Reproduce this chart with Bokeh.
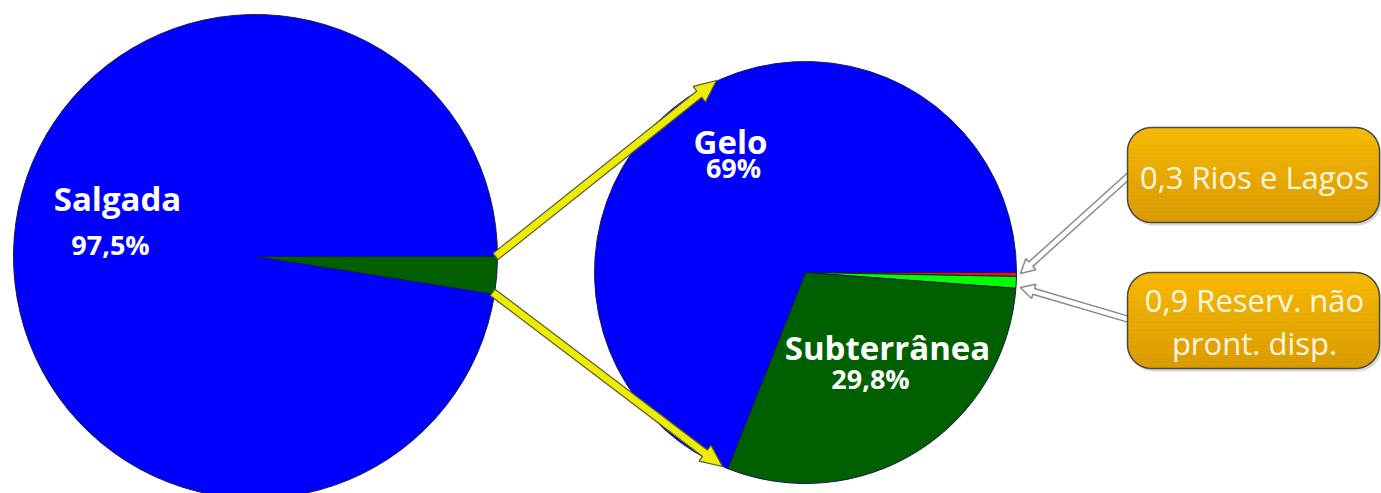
import numpy as np
from bokeh.plotting import figure
from bokeh.core.properties import value
from bokeh.embed import file_html
from bokeh.resources import INLINE

W, H = 1381, 493

# ---- data ----
agua_categorias = ["Doce", "Salgada"]
agua_valores = [2.5, 97.5]
agua_cores = ["#006000", "#0000FF"]

doce_categorias = ["Rios e Lagos", "Reserv. não pront. disp.", "Subterrânea", "Gelo"]
doce_valores = [0.3, 0.9, 29.8, 69.0]
doce_cores = ["#F01010", "#00FF00", "#006000", "#0000FF"]

rotulos_grandes = ["Salgada", "Gelo", "Subterrânea"]
rotulos_pct = ["97,5%", "69%", "29,8%"]
caixa_textos = [["0,3 Rios e Lagos"], ["0,9 Reserv. não", "pront. disp."]]

# ---- layout (pixel coords, y measured downward) ----
def Y(v):
    return H - v

L_CX, L_CY, L_R = 255, Y(256), 242
R_CX, R_CY, R_R = 805, Y(272), 211

p = figure(width=W, height=H, x_range=(0, W), y_range=(0, H),
           output_backend="svg", toolbar_location=None, min_border=0)
p.axis.visible = False
p.grid.visible = False
p.outline_line_color = None
p.background_fill_color = "white"
p.border_fill_color = "white"


def pie(cx, cy, r, vals, cores):
    v = np.array(vals, dtype=float)
    cum = np.concatenate([[0], np.cumsum(v)]) / v.sum()
    ang = -cum * 2 * np.pi
    p.wedge(x=[cx] * len(v), y=[cy] * len(v), radius=r,
            start_angle=list(ang[:-1]), end_angle=list(ang[1:]),
            direction="clock", fill_color=cores,
            line_color="#1a1a50", line_width=1)
    return ang


ang_l = pie(L_CX, L_CY, L_R, agua_valores, agua_cores)
ang_r = pie(R_CX, R_CY, R_R, doce_valores, doce_cores)


def arrow_poly(x0, y0, x1, y1, sw, hw, hl):
    dx, dy = x1 - x0, y1 - y0
    L = np.hypot(dx, dy)
    ux, uy = dx / L, dy / L
    nx, ny = -uy, ux
    bx, by = x1 - ux * hl, y1 - uy * hl
    pts = [
        (x0 + nx * sw / 2, y0 + ny * sw / 2),
        (bx + nx * sw / 2, by + ny * sw / 2),
        (bx + nx * hw / 2, by + ny * hw / 2),
        (x1, y1),
        (bx - nx * hw / 2, by - ny * hw / 2),
        (bx - nx * sw / 2, by - ny * sw / 2),
        (x0 - nx * sw / 2, y0 - ny * sw / 2),
    ]
    return [q[0] for q in pts], [q[1] for q in pts]


# yellow arrows from the small (doce) wedge to the second pie
tail_up = (L_CX + L_R * np.cos(ang_l[0]) - 2, L_CY + L_R * np.sin(ang_l[0]))
tail_dn = (L_CX + L_R * np.cos(ang_l[1]) - 2, L_CY + L_R * np.sin(ang_l[1]) + 2)
tip_up = (716, Y(80))
tip_dn = (722, Y(466))
for (t, h) in [(tail_up, tip_up), (tail_dn, tip_dn)]:
    xs, ys = arrow_poly(t[0], t[1], h[0], h[1], 8, 20, 22)
    p.patch(xs, ys, fill_color="#EDED00", line_color="#5a5a30", line_width=1.2)

# gray hollow arrows from boxes to the tiny slices
edge_red = (R_CX + R_R * np.cos((ang_r[0] + ang_r[1]) / 2) + 4,
            R_CY + R_R * np.sin((ang_r[0] + ang_r[1]) / 2) + 1)
edge_grn = (R_CX + R_R * np.cos((ang_r[1] + ang_r[2]) / 2) + 4,
            R_CY + R_R * np.sin((ang_r[1] + ang_r[2]) / 2) - 5)
for (t, h) in [((1132, Y(172)), edge_red), ((1132, Y(320)), edge_grn)]:
    xs, ys = arrow_poly(t[0], t[1], h[0], h[1], 6, 15, 14)
    p.patch(xs, ys, fill_color="white", line_color="#8a8a8a", line_width=1.5)


def rounded_rect(x0, y0, x1, y1, r, n=12):
    xs, ys = [], []
    corners = [(x1 - r, y1 - r, 0), (x0 + r, y1 - r, 90), (x0 + r, y0 + r, 180), (x1 - r, y0 + r, 270)]
    for cx, cy, a0 in corners:
        for t in np.linspace(a0, a0 + 90, n):
            xs.append(cx + r * np.cos(np.radians(t)))
            ys.append(cy + r * np.sin(np.radians(t)))
    return xs, ys


def inset(y, y0, y1, r):
    if y > y1 - r:
        d = min(y - (y1 - r), r)
        return r - np.sqrt(max(r * r - d * d, 0))
    if y < y0 + r:
        d = min((y0 + r) - y, r)
        return r - np.sqrt(max(r * r - d * d, 0))
    return 0.0


def hex_mix(c1, c2, t):
    a = [int(c1[i:i + 2], 16) for i in (1, 3, 5)]
    b = [int(c2[i:i + 2], 16) for i in (1, 3, 5)]
    return "#%02x%02x%02x" % tuple(int(round(a[k] + (b[k] - a[k]) * t)) for k in range(3))


RAD = 24
boxes = [(1127, Y(222), 1379, Y(127)), (1127, Y(368), 1379, Y(272))]
for (x0, y0, x1, y1) in boxes:
    xs, ys = rounded_rect(x0 + 2, y0 - 3, x1 + 2, y1 - 3, RAD)
    p.patch(xs, ys, fill_color="#000000", fill_alpha=0.15, line_color=None)
    n = 24
    edges = np.linspace(y0, y1, n + 1)
    for k in range(n):
        ya, yb = edges[k], edges[k + 1]
        yy = np.linspace(ya, yb, 5)
        lx = [x0 + inset(v, y0, y1, RAD) for v in yy]
        rx = [x1 - inset(v, y0, y1, RAD) for v in yy[::-1]]
        col = hex_mix("#D99A00", "#F7B900", (k + 0.5) / n)
        p.patch(lx + rx, list(yy) + list(yy[::-1]), fill_color=col,
                line_color=col, line_width=0.6)
    xs, ys = rounded_rect(x0, y0, x1, y1, RAD)
    p.patch(xs, ys, fill_color=None, line_color="#4a4a4a", line_width=1.5)

font = value("Open Sans")
p.text(x=[117, 730, 887], y=[Y(198), Y(141), Y(347)], text=rotulos_grandes,
       text_font=font, text_font_style="bold", text_font_size="33px",
       text_color="white", text_align="center", text_baseline="middle")
p.text(x=[110, 733, 870], y=[Y(244), Y(167), Y(378)], text=rotulos_pct,
       text_font=font, text_font_style="bold", text_font_size="27px",
       text_color="white", text_align="center", text_baseline="middle")

p.text(x=[1254], y=[Y(176)], text=caixa_textos[0],
       text_font=font, text_font_size="31px",
       text_color="#FFF6E0", text_align="center", text_baseline="middle")
p.text(x=[1254, 1254], y=[Y(299), Y(342)], text=caixa_textos[1],
       text_font=font, text_font_size="31px",
       text_color="#FFF6E0", text_align="center", text_baseline="middle")

open("out.html", "w").write(file_html(p, INLINE))
